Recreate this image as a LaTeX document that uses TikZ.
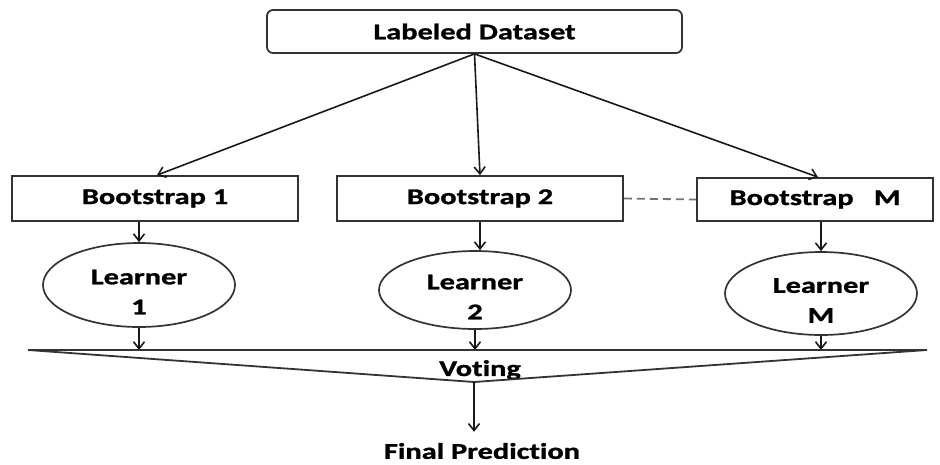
\documentclass[tikz,border=0pt]{standalone}
\usepackage{fontspec}
\setmainfont[FakeStretch=1.35, Ligatures=NoCommon, BoldFeatures={FakeBold=1.2}]{Carlito}
\usetikzlibrary{shapes.geometric,arrows.meta,calc}
\begin{document}
\begin{tikzpicture}[x=1pt,y=-1pt,
  every node/.style={font=\fontsize{22.5}{30}\selectfont\bfseries, text=black},
  boxst/.style={draw=black!80, line width=1.8pt, inner sep=0pt, rectangle},
  learner/.style={draw=black!80, line width=1.7pt, ellipse, inner sep=0pt, minimum width=192pt},
  ltext/.style={align=center, inner sep=0pt},
  conn/.style={line width=1.6pt, black!90},
  arr/.style={conn, -{Straight Barb[length=7pt,width=11pt,line width=1.6pt]}}
]
\useasboundingbox (0,0) rectangle (940,464);
\fill[white] (0,0) rectangle (940,464);

\node[boxst, rounded corners=6pt, minimum width=415pt, minimum height=43pt] (ds) at (474.5,31.5) {Labeled Dataset};

\node[boxst, minimum width=286pt, minimum height=45pt] (b1) at (155,198.5) {Bootstrap 1};
\node[boxst, minimum width=286pt, minimum height=45pt] (b2) at (480,198.5) {Bootstrap 2};
\node[boxst, minimum width=236pt, minimum height=43pt] (bM) at (815,199.5) {Bootstrap\hspace{0.9em}M};

\node[learner, minimum height=84pt] (l1) at (139,285) {};
\node[learner, minimum height=78pt] (l2) at (475,290) {};
\node[learner, minimum height=83pt] (lM) at (821,293.5) {};
\node[ltext] (t1) at ($(l1.center)+(0,7)$) {Learner\\1};
\node[ltext] (t2) at ($(l2.center)+(0,7)$) {Learner\\2};
\node[ltext] (tM) at ($(lM.center)+(0,7)$) {Learner\\M};

\coordinate (vl) at (28,350);
\coordinate (vr) at (927,350);
\coordinate (vb) at (474,382);

\node[inner sep=0pt] (voting) at (480,370) {Voting};
\node[inner sep=0pt] (final) at (482,451) {Final Prediction};

% top arrows
\draw[arr] (ds.south) -- ($(b1.north)+(2,0)$);
\draw[arr] (ds.south) -- (b2.north);
\draw[arr] (ds.south) -- ($(bM.north)+(3,0)$);

% dashed link
\draw[line width=1.8pt, black!55, dash pattern=on 8pt off 5pt] (b2.east) -- (bM.west);

% bootstrap -> learner
\draw[arr] (l1.north |- b1.south) -- (l1.north);
\draw[arr] (b2.south) -- (b2.south |- l2.north);
\draw[arr] (lM.north |- bM.south) -- (lM.north);

% learner -> voting line
\draw[arr] (l1.south) -- (l1.south |- vl);
\draw[arr] (l2.south) -- (l2.south |- vl);
\draw[arr] (lM.south) -- (lM.south |- vl);

% voting shape
\draw[conn, line width=1.9pt, black!80] (vl) -- (vr);
\draw[conn, line width=1.8pt, black!80] (vl) -- (vb) -- (vr);

% final
\draw[arr] (vb) -- ($(final.north)+(-8,-11)$);
\end{tikzpicture}
\end{document}
